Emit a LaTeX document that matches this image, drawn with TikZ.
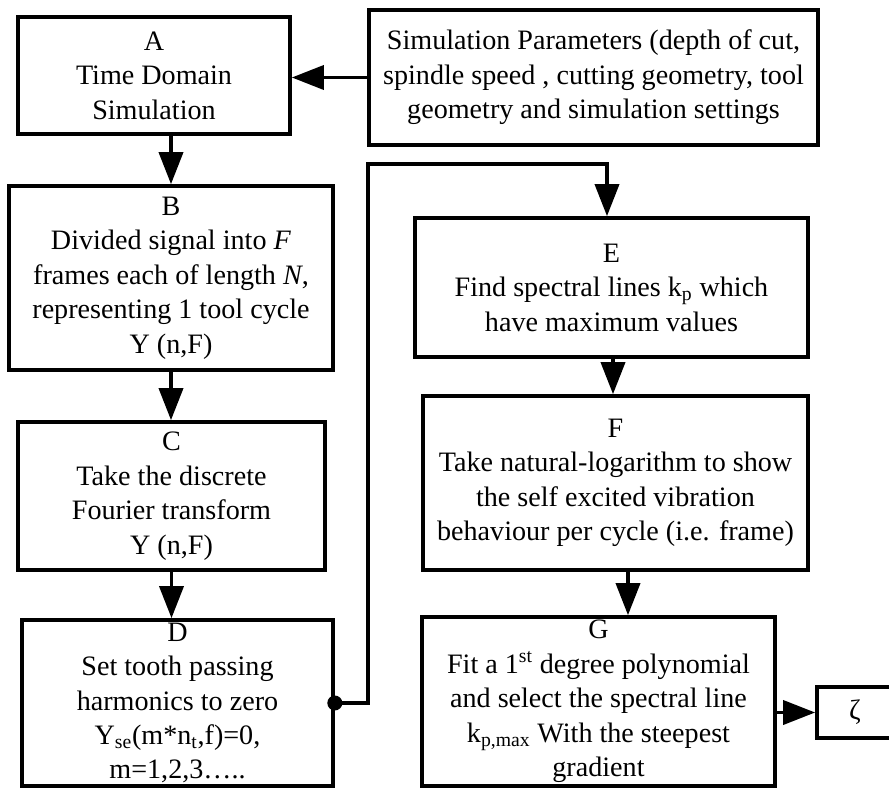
\documentclass[tikz,border=0pt]{standalone}
\usepackage{fontspec}
\setmainfont{Liberation Serif}
\usetikzlibrary{arrows.meta}
\usetikzlibrary{positioning}

\def\pxu{0.025cm}

\begin{document}
\begin{tikzpicture}[x=0.025cm, y=-0.025cm, line width=2.6pt,
    every node/.style={font=\fontsize{20}{24.5}\selectfont, align=center, inner sep=0pt},
    box/.style={draw, rectangle},
    flow/.style={-{Triangle[length=0.8cm, width=0.6cm]}}]

        \path[use as bounding box, clip] (0,0) rectangle (889,789);

        \node[box, minimum width=272*\pxu, minimum height=117*\pxu] (simA) at (154, 75.5)
          {A\\Time Domain\\Simulation};
        \node[box, minimum width=449*\pxu, minimum height=135*\pxu] (params) at (593.5, 77.5)
          {Simulation Parameters (depth of cut,\\spindle speed , cutting geometry, tool\\geometry and simulation settings};
        \node[box, minimum width=324*\pxu, minimum height=184*\pxu] (frames) at (171, 278)
          {B\\Divided signal into \textit{F}\\frames each of length \textit{N},\\representing 1 tool cycle\\Y (n,F)};
        \node[box, minimum width=307*\pxu, minimum height=148*\pxu] (dft) at (171.5, 496)
          {C\\Take the discrete\\Fourier transform\\Y (n,F)};
        \node[box, minimum width=311*\pxu, minimum height=166*\pxu] (harm) at (177.5, 703)
          {D\\Set tooth passing\\harmonics to zero\\Y\textsubscript{se}(m*n\textsubscript{t},f)=0,\\m=1,2,3…..};

        \node[box, minimum width=393*\pxu, minimum height=139*\pxu] (lines) at (611.5, 287.5)
          {E\\Find spectral lines k\textsubscript{p} which\\have maximum values};
        \node[box, minimum width=385*\pxu, minimum height=174*\pxu] (logn) at (615.5, 483)
          {F\\Take natural-logarithm to show\\the self excited vibration\\behaviour per cycle (i.e. frame)};
        \node[box, minimum width=353*\pxu, minimum height=169*\pxu] (fit) at (598.5, 701.5)
          {G\\Fit a 1\textsuperscript{st} degree polynomial\\and select the spectral line\\k\textsubscript{p,max} With the steepest\\gradient};
        \node[box, minimum width=76*\pxu, minimum height=51*\pxu] (zeta) at (855, 712.5) {ζ};

        % left column
        \draw[flow] (params.west) -- (params.west -| simA.east);
        \draw[flow] (frames.north |- simA.south) -- (frames.north);
        \draw[flow] (frames.south) -- (frames.south |- dft.north);
        \draw[flow] (dft.south) -- (dft.south |- harm.north);

        % jump to the right column
        \coordinate (up) at (368, 164);
        \coordinate (over) at (607, 164);
        \fill (harm.east) circle (7.5*\pxu);
        \draw[flow] (harm.east) -| (up) -- (over) -- (over |- lines.north);

        % right column
        \coordinate (fg) at (628, 570);
        \draw[flow] ([xshift=1.5*\pxu]lines.south) -- ([xshift=1.5*\pxu]lines.south |- logn.north);
        \draw[flow] (fg) -- (fg |- fit.north);
        \draw[flow] (fit.east |- zeta.west) -- (zeta.west);

      \end{tikzpicture}
\end{document}
